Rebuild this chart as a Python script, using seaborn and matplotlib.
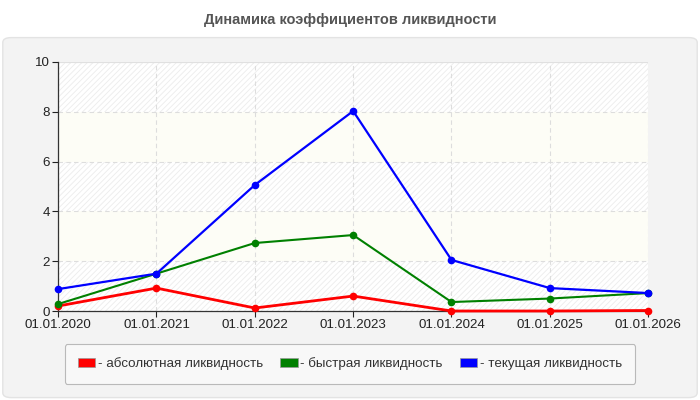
import pandas as pd
import numpy as np
import matplotlib
matplotlib.use('Agg')
import matplotlib.pyplot as plt
import seaborn as sns
from matplotlib.patches import FancyBboxPatch, Patch

# Data
dates = ['01.01.2020', '01.01.2021', '01.01.2022', '01.01.2023',
         '01.01.2024', '01.01.2025', '01.01.2026']
absolute = [0.20, 0.92, 0.12, 0.60, 0.00, 0.00, 0.02]
quick = [0.28, 1.50, 2.73, 3.05, 0.36, 0.50, 0.72]
current = [0.88, 1.50, 5.06, 8.03, 2.05, 0.92, 0.72]
series_names = ['- абсолютная ликвидность', '- быстрая ликвидность', '- текущая ликвидность']
colors = ['#ff0000', '#008000', '#0000ff']

df = pd.DataFrame({'date': dates * 3,
                   'value': absolute + quick + current,
                   'series': np.repeat(series_names, len(dates))})
df['pos'] = df['date'].map({d: i for i, d in enumerate(dates)})

sns.set_style('white')
plt.rcParams['font.family'] = ['Liberation Sans', 'DejaVu Sans']
plt.rcParams['hatch.color'] = '#e6e6e6'
plt.rcParams['hatch.linewidth'] = 0.6

fig = plt.figure(figsize=(7, 4), dpi=100)
fig.patch.set_facecolor('white')

# grey rounded panel behind the chart
panel = FancyBboxPatch((0.004, 0.006), 0.992, 0.9, boxstyle='round,pad=0,rounding_size=0.012',
                       transform=fig.transFigure, facecolor='#f3f3f3', edgecolor='#e3e3e3',
                       linewidth=1, zorder=-10)
fig.add_artist(panel)

fig.text(0.5, 0.95, 'Динамика коэффициентов ликвидности', ha='center', va='center',
         fontsize=10.5, fontweight='bold', color='#555555')

ax = fig.add_axes([0.083, 0.2225, 0.843, 0.6225])
ax.set_facecolor('white')

# alternating bands: hatched / pale yellow
for lo in range(0, 10, 2):
    if lo % 4 == 0:
        ax.axhspan(lo, lo + 2, facecolor='white', hatch='//////', edgecolor='#ececec', linewidth=0, zorder=0)
    else:
        ax.axhspan(lo, lo + 2, facecolor='#fdfdf6', linewidth=0, zorder=0)

widths = [2.0, 1.5, 1.6]
for name, col, lw in zip(series_names, colors, widths):
    sns.lineplot(data=df[df['series'] == name], x='pos', y='value', color=col, linewidth=lw,
                 marker='o', markersize=5.5, markeredgewidth=0, ax=ax, clip_on=False, zorder=3)

ax.set_xlim(0, len(dates) - 1)
ax.set_ylim(0, 10)
ax.set_xticks(range(len(dates)))
ax.set_xticklabels(dates)
ax.set_yticks(range(0, 11, 2))
ax.set_xlabel('')
ax.set_ylabel('')
ax.tick_params(axis='both', labelsize=9.6, colors='#222222', length=4, width=0.8, direction='out',
               left=True, bottom=True, pad=2)
ax.grid(True, color='#dddddd', linestyle=(0, (4, 3)), linewidth=0.8)
ax.set_axisbelow(True)
for s in ['top', 'right']:
    ax.spines[s].set_visible(False)
for s in ['left', 'bottom']:
    ax.spines[s].set_color('#333333')
    ax.spines[s].set_linewidth(0.9)
ax.axhline(10, color='#e0e0e0', linewidth=0.8, zorder=1)

handles = [Patch(facecolor=c, edgecolor='#999999', linewidth=0.5) for c in colors]
leg = fig.legend(handles, series_names, loc='center', bbox_to_anchor=(0.5, 0.09), ncol=3,
                 frameon=True, fancybox=True, fontsize=9.6, handlelength=1.3, handleheight=0.65,
                 handletextpad=0.2, columnspacing=1.3, borderpad=1.0)
leg.get_frame().set_facecolor('#fafafa')
leg.get_frame().set_edgecolor('#aaaaaa')
leg.get_frame().set_linewidth(0.8)
for t in leg.get_texts():
    t.set_color('#333333')

fig.savefig('out.png', dpi=100)
